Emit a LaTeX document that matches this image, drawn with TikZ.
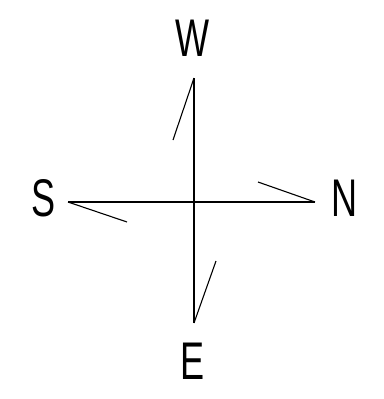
\documentclass[tikz,border=0pt]{standalone}
\usepackage{fontspec}
\newfontfamily\cadfont[FakeStretch=0.68]{Liberation Sans}
\usetikzlibrary{positioning}

\begin{document}
\begin{tikzpicture}[x=1pt,y=-1pt,
  axis/.style={draw=black,line width=1.1pt},
  barb/.style={draw=black,line width=1.1pt},
  compass/.style={font=\cadfont\fontsize{53}{53}\selectfont,inner sep=0pt,anchor=center}]
\useasboundingbox (0,0) rectangle (383,399);
\coordinate (wtip) at (194,78);\coordinate (etip) at (194,323);
\coordinate (stip) at (68,202);\coordinate (ntip) at (315,202);
\coordinate (wbarb) at (173,140);\coordinate (ebarb) at (216,261);
\coordinate (sbarb) at (127,222);\coordinate (nbarb) at (258,182);
\node[compass] (west) at (193,38) {W};
\node[compass] (east) at (193,361) {E};
\node[compass] (south) at (44,198) {S};
\node[compass] (north) at (345,198) {N};
\draw[axis](wtip)--(etip);\draw[axis](stip)--(ntip);
\draw[barb](wtip)--(wbarb);\draw[barb](etip)--(ebarb);\draw[barb](stip)--(sbarb);\draw[barb](ntip)--(nbarb);
\end{tikzpicture}
\end{document}
